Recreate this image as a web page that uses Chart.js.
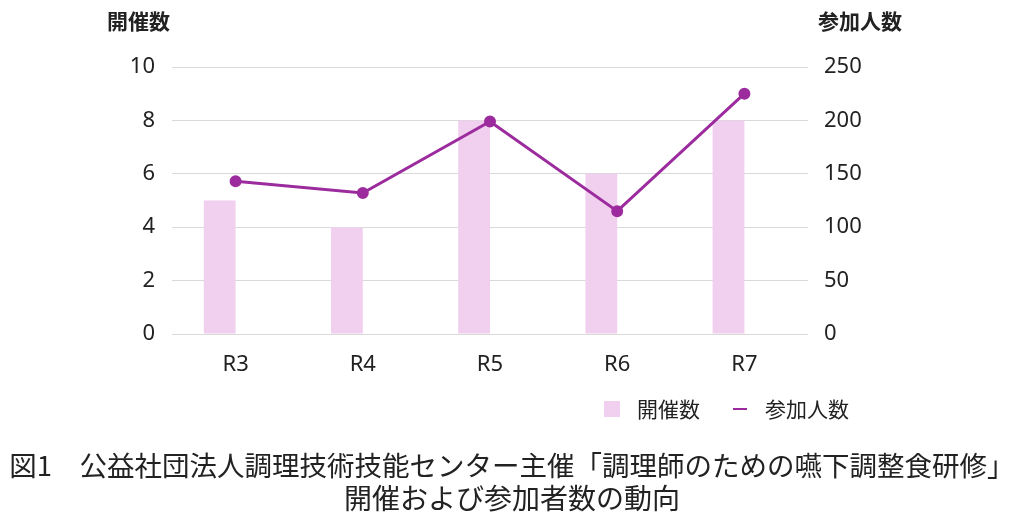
<!DOCTYPE html>
<html lang="ja">
<head>
<meta charset="utf-8">
<script src="https://cdn.jsdelivr.net/npm/chart.js@4"></script>
<style>
  html, body { margin:0; padding:0; background:#fff; }
  #wrap { position:relative; width:1024px; height:529px; font-family:"Noto Sans CJK JP","Noto Sans",sans-serif; color:#222; }
  #wrap canvas { position:absolute; left:0; top:0; }
  .t { position:absolute; white-space:nowrap; line-height:1; }
  .axt { font-weight:bold; font-size:21px; top:10px; }
  .leg { font-size:21px; top:398px; }
  .cap { left:0; width:1024px; text-align:center; }
</style>
</head>
<body>
<div id="wrap">
  <canvas id="c" width="1024" height="529"></canvas>
  <div class="t axt" style="left:107px;">開催数</div>
  <div class="t axt" style="left:818px;">参加人数</div>
  <div class="t" style="left:604px;top:401px;width:16px;height:16px;background:#f0d0ee;"></div>
  <div class="t leg" style="left:637px;">開催数</div>
  <div class="t" style="left:733px;top:408px;width:14px;height:2px;background:#9c2b9e;"></div>
  <div class="t leg" style="left:765px;">参加人数</div>
  <div class="t cap" style="top:451px;font-size:27.5px;">図1　公益社団法人調理技術技能センター主催「調理師のための嚥下調整食研修」</div>
  <div class="t cap" style="top:483px;font-size:28px;">開催および参加者数の動向</div>
</div>
<script>
const categories = ["R3", "R4", "R5", "R6", "R7"];
const sessions = [5, 4, 8, 6, 8];
const participants = [143, 132, 199, 115, 225];
const leftTicks = [0, 2, 4, 6, 8, 10];
const rightTicks = [0, 50, 100, 150, 200, 250];

const tickFont = { family: "'Noto Sans','Noto Sans CJK JP',sans-serif", size: 22 };

new Chart(document.getElementById('c'), {
  data: {
    labels: categories,
    datasets: [
      { type: 'line', label: '参加人数', data: participants, yAxisID: 'y1',
        borderColor: '#9c2b9e', backgroundColor: '#9c2b9e', borderWidth: 3,
        pointRadius: 4.5, pointHoverRadius: 4.5, tension: 0, order: 0 },
      { type: 'bar', label: '開催数', data: sessions, yAxisID: 'y',
        backgroundColor: '#f0d0ee', borderWidth: 0,
        categoryPercentage: 0.5, barPercentage: 1.0, order: 1 },
      { type: 'bar', label: '', data: categories.map(() => null), yAxisID: 'y',
        backgroundColor: 'rgba(0,0,0,0)', borderWidth: 0,
        categoryPercentage: 0.5, barPercentage: 1.0, order: 2 }
    ]
  },
  options: {
    responsive: false,
    animation: false,
    layout: { padding: { top: 67, left: 0, right: 0, bottom: 0 } },
    plugins: { legend: { display: false }, tooltip: { enabled: false } },
    scales: {
      x: {
        grid: { display: false }, border: { display: false },
        ticks: { font: tickFont, color: '#222', padding: 10 },
        afterFit: s => { s.height = 195; }
      },
      y: {
        position: 'left', min: 0, max: 10,
        afterBuildTicks: s => { s.ticks = leftTicks.map(v => ({ value: v })); },
        grid: { color: '#d9d9d9', lineWidth: 1, drawTicks: false },
        border: { display: false },
        ticks: { font: tickFont, color: '#222', padding: 17 },
        afterFit: s => { s.width = 172; }
      },
      y1: {
        position: 'right', min: 0, max: 250,
        afterBuildTicks: s => { s.ticks = rightTicks.map(v => ({ value: v })); },
        grid: { drawOnChartArea: false, drawTicks: false },
        border: { display: false },
        ticks: { font: tickFont, color: '#222', padding: 16 },
        afterFit: s => { s.width = 216; }
      }
    }
  }
});
</script>
</body>
</html>
